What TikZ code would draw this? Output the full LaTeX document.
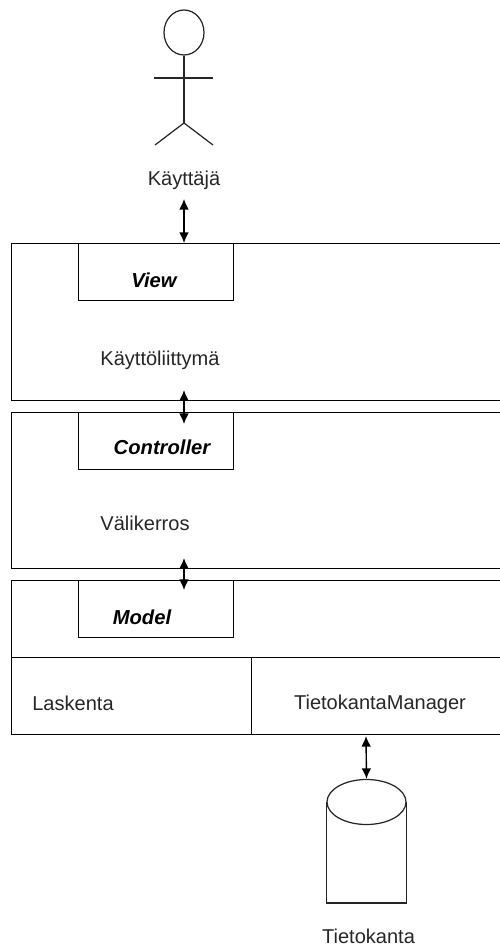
\documentclass[tikz,border=0pt]{standalone}
\usepackage{fontspec}
\setmainfont{Liberation Sans}
\usetikzlibrary{shapes.geometric, arrows.meta}
\tikzset{
    layerbox/.style={draw, line width=0.8pt, anchor=north west, minimum width=9.84cm, inner sep=0pt},
    rolebox/.style={draw, line width=0.8pt, anchor=north west, minimum width=3.1cm, minimum height=1.14cm, inner sep=0pt},
    rolelabel/.style={font=\fontsize{11.5}{13}\selectfont\bfseries\itshape, inner sep=0pt},
    plainlabel/.style={font=\fontsize{11.4}{13}\selectfont, text=black!85, inner sep=0pt},
    twoway/.style={{Latex[length=6pt,width=5.5pt]}-{Latex[length=6pt,width=5.5pt]}, line width=0.8pt},
    figure/.style={line width=0.7pt, black!85}
}
\begin{document}
\begin{tikzpicture}
    \useasboundingbox (0, 0) rectangle (10, -18.94);

    % user figure
    \node[draw, figure, ellipse, minimum width=0.8cm, minimum height=0.9cm, inner sep=0pt] (head) at (3.68, -0.65) {};
    \coordinate (hip) at (3.68, -2.46);
    \coordinate (handL) at (3.08, -1.56);
    \coordinate (handR) at (4.26, -1.56);
    \coordinate (footL) at (3.1, -2.9);
    \coordinate (footR) at (4.26, -2.9);
    \draw[figure] (head.south) -- (hip);
    \draw[figure] (handL) -- (handR);
    \draw[figure] (footL) -- (hip) -- (footR);
    \node[plainlabel] (user) at (3.68, -3.6) {Käyttäjä};

    % layers
    \node[layerbox, minimum height=3.14cm] (viewlayer) at (0.22, -4.86) {};
    \node[layerbox, minimum height=3.12cm] (ctrllayer) at (0.22, -8.24) {};
    \node[layerbox, minimum height=3.08cm] (modellayer) at (0.22, -11.6) {};
    \node[rolebox] (viewbox) at (1.56, -4.86) {};
    \node[rolebox] (ctrlbox) at (1.56, -8.24) {};
    \node[rolebox] (modelbox) at (1.56, -11.6) {};
    \node[rolelabel] (viewname) at (3.08, -5.6) {View};
    \node[rolelabel] (ctrlname) at (3.24, -8.94) {Controller};
    \node[rolelabel] (modelname) at (2.84, -12.34) {Model};
    \node[plainlabel] (uilabel) at (3.2, -7.2) {Käyttöliittymä};
    \node[plainlabel] (midlabel) at (2.9, -10.46) {Välikerros};

    % model split
    \node[layerbox, minimum width=4.8cm, minimum height=1.54cm] (calcbox) at (0.22, -13.14) {};
    \node[layerbox, minimum width=5.04cm, minimum height=1.54cm] (managerbox) at (5.02, -13.14) {};
    \node[plainlabel] (calclabel) at (1.46, -14.06) {Laskenta};
    \node[plainlabel] (managerlabel) at (7.6, -14.08) {TietokantaManager};

    % database
    \node[draw, figure, ellipse, minimum width=1.58cm, minimum height=0.9cm, inner sep=0pt] (dbtop) at (7.33, -16.04) {};
    \coordinate (dbfoot) at (7.33, -18.06);
    \draw[figure] (dbtop.west) |- (dbfoot) -| (dbtop.east);
    \node[plainlabel] (dbname) at (7.37, -18.72) {Tietokanta};

    % connectors
    \coordinate (userfoot) at (3.68, -3.98);
    \coordinate (viewtop) at (3.68, -4.86);
    \coordinate (ctrlfrom) at (3.68, -7.8);
    \coordinate (ctrlto) at (3.68, -8.48);
    \coordinate (modelfrom) at (3.68, -11.16);
    \coordinate (modelto) at (3.68, -11.8);
    \coordinate (mgrfoot) at (7.32, -14.72);
    \draw[twoway] (userfoot) -- (viewtop);
    \draw[twoway] (ctrlfrom) -- (ctrlto);
    \draw[twoway] (modelfrom) -- (modelto);
    \draw[twoway] (mgrfoot) -- (dbtop.north);
\end{tikzpicture}
\end{document}
